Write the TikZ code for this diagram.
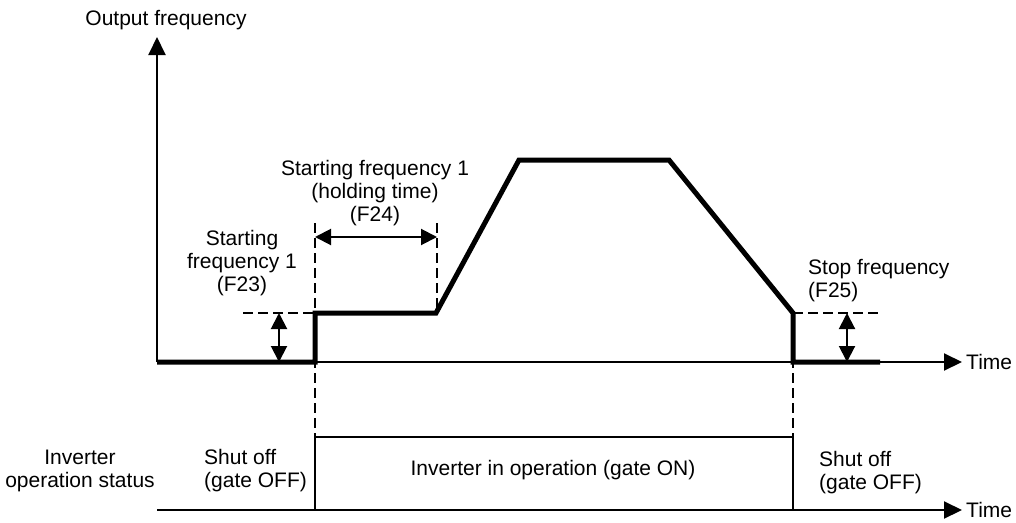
\documentclass[tikz,border=0pt]{standalone}
\usepackage{fontspec}
\setmainfont{Liberation Sans}
\usetikzlibrary{arrows.meta}
\begin{document}
\begin{tikzpicture}[x=1pt,y=-1pt,
  font=\fontsize{21}{23}\selectfont,
  axis/.style={line width=2pt,-{Triangle[length=18pt,width=17pt]}},
  wave/.style={line width=5pt,line join=miter},
  guide/.style={line width=2pt,dash pattern=on 10pt off 5pt},
  dim/.style={line width=2pt,{Triangle[length=16pt,width=16pt]}-{Triangle[length=16pt,width=16pt]}},
  statusline/.style={line width=2.5pt},
  lbl/.style={inner sep=0pt}]
\useasboundingbox (0,0) rectangle (1016,522);
% coordinates
\coordinate (O) at (157,362);
\coordinate (ytip) at (157,37);
\coordinate (xtip) at (962,362);
\coordinate (s0) at (157,362);
\coordinate (s1) at (315,362);
\coordinate (s2) at (315,313);
\coordinate (s3) at (436,313);
\coordinate (s4) at (519,160);
\coordinate (s5) at (669,160);
\coordinate (s6) at (793,313);
\coordinate (s7) at (793,362);
\coordinate (s8) at (880,362);
\coordinate (d1t) at (315,223);
\coordinate (d1b) at (315,437);
\coordinate (d2t) at (437,223);
\coordinate (d2b) at (437,313);
\coordinate (d3b) at (793,437);
\coordinate (h1l) at (243,313);
\coordinate (h2r) at (878,313);
\coordinate (a1t) at (279,313);
\coordinate (a1b) at (279,362);
\coordinate (a2t) at (847,313);
\coordinate (a2b) at (847,362);
\coordinate (a3l) at (315,237);
\coordinate (a3r) at (437,237);
\coordinate (O2) at (157,510);
\coordinate (x2tip) at (962,510);
\coordinate (b1) at (315,510);
\coordinate (b2) at (315,437);
\coordinate (b3) at (793,437);
\coordinate (b4) at (793,510);
% guides
\draw[guide] (d1t) -- (d1b);
\draw[guide] (d2t) -- (d2b);
\draw[guide] (s6) -- (d3b);
\draw[guide] (h1l) -- (s2);
\draw[guide] (s6) -- (h2r);
% axes
\draw[axis] (O) -- (ytip);
\draw[axis] (O) -- (xtip);
% waveform
\draw[wave] (s0) -- (s1) -- (s2) -- (s3) -- (s4) -- (s5) -- (s6) -- (s7) -- (s8);
% dimension arrows
\draw[dim] (a1t) -- (a1b);
\draw[dim] (a2t) -- (a2b);
\draw[dim] (a3l) -- (a3r);
% status
\draw[statusline] (b1) -- (b2) -- (b3) -- (b4);
\draw[axis] (O2) -- (x2tip);
% labels
\node[lbl,anchor=base] (ylab) at (166,25) {Output frequency};
\node[lbl,anchor=west] (t1) at (966,362) {Time};
\node[lbl,anchor=west] (t2) at (966,510) {Time};
\node[lbl,align=center] (f23) at (242,263) {Starting\\frequency 1\\(F23)};
\node[lbl,align=center] (f24) at (375,193) {Starting frequency 1\\(holding time)\\(F24)};
\node[lbl,align=left,anchor=west] (f25) at (808,281) {Stop frequency\\(F25)};
\node[lbl,align=center] (ios) at (80,471) {Inverter\\operation status};
\node[lbl,align=left,anchor=west] (so1) at (204,471) {Shut off\\(gate OFF)};
\node[lbl,align=left,anchor=west] (so2) at (819,473) {Shut off\\(gate OFF)};
\node[lbl] (ion) at (553,470) {Inverter in operation (gate ON)};
\end{tikzpicture}
\end{document}
